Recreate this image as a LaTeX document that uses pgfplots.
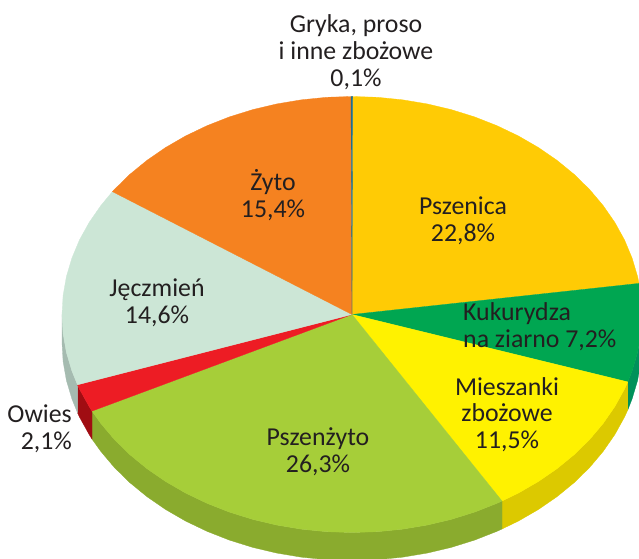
\documentclass[border=0pt]{standalone}
\usepackage{pgfplots}
\pgfplotsset{compat=1.18}
\usepackage{fontspec}
\setmainfont{Carlito}
\definecolor{cPsz}{HTML}{FFCB05}
\definecolor{cKuk}{HTML}{00A651}
\definecolor{cMie}{HTML}{FFF200}
\definecolor{cPzy}{HTML}{A6CE39}
\definecolor{cOwi}{HTML}{ED1C24}
\definecolor{cJec}{HTML}{CCE6D6}
\definecolor{cZyt}{HTML}{F58220}
\definecolor{cGry}{HTML}{1F6F8B}
\definecolor{sKuk}{HTML}{00915A}
\definecolor{sMie}{HTML}{DCC900}
\definecolor{sPzy}{HTML}{8AAB2E}
\definecolor{sOwi}{HTML}{A00D12}
\definecolor{sJec}{HTML}{A5BBB0}
\definecolor{txt}{HTML}{231F20}
\tikzset{lab/.style={font=\fontsize{25.8}{26.8}\selectfont,text=txt,align=center,inner sep=0pt}}
\begin{document}
\begin{tikzpicture}
\clip (0,0) rectangle (639pt,558pt);
\path[use as bounding box] (0,0) rectangle (639pt,558pt);
\begin{axis}[
  at={(0,0)},anchor=south west,
  width=639pt,height=558pt,scale only axis,
  xmin=0,xmax=639,ymin=0,ymax=558,
  hide axis,
  every axis plot/.append style={line width=0.3pt},
]
% rim
\addplot[fill=sKuk,draw=sKuk] coordinates {(642,243.5)(640.9,224.5)(637.6,205.6)(632.1,187.1)(627.8,176.1)(627.8,148.1)(632.1,159.1)(637.6,177.6)(640.9,196.5)(642,215.5)} --cycle;
\addplot[fill=sMie,draw=sMie] coordinates {(627.8,176.1)(624.5,168.9)(614.8,151.4)(603.1,134.5)(589.6,118.5)(574.2,103.4)(557.1,89.4)(538.4,76.5)(518.3,64.9)(502,57)(502,29)(518.3,36.9)(538.4,48.5)(557.1,61.4)(574.2,75.4)(589.6,90.5)(603.1,106.5)(614.8,123.4)(624.5,140.9)(627.8,148.1)} --cycle;
\addplot[fill=sPzy,draw=sPzy] coordinates {(502,57)(497,54.7)(474.6,45.9)(451.2,38.6)(427.1,32.9)(402.4,28.8)(377.3,26.3)(352,25.5)(326.7,26.3)(301.6,28.8)(276.9,32.9)(252.8,38.6)(229.4,45.9)(207,54.7)(185.7,64.9)(165.6,76.5)(146.9,89.4)(129.8,103.4)(114.4,118.5)(100.9,134.5)(92,146.9)(92,118.9)(100.9,106.5)(114.4,90.5)(129.8,75.4)(146.9,61.4)(165.6,48.5)(185.7,36.9)(207,26.7)(229.4,17.9)(252.8,10.6)(276.9,4.9)(301.6,0.8)(326.7,-1.7)(352,-2.5)(377.3,-1.7)(402.4,0.8)(427.1,4.9)(451.2,10.6)(474.6,17.9)(497,26.7)(502,29)} --cycle;
\addplot[fill=sOwi,draw=sOwi] coordinates {(92,146.9)(89.2,151.4)(79.5,168.9)(77.5,173.2)(77.5,145.2)(79.5,140.9)(89.2,123.4)(92,118.9)} --cycle;
\addplot[fill=sJec,draw=sJec] coordinates {(77.5,173.2)(71.9,187.1)(66.4,205.6)(63.1,224.5)(62,243.5)(62,215.5)(63.1,196.5)(66.4,177.6)(71.9,159.1)(77.5,145.2)} --cycle;
% top
\addplot[fill=cPsz,draw=cPsz] coordinates {(352,243.5)(352.6,461.5)(377.3,460.7)(402.4,458.2)(427.1,454.1)(451.2,448.4)(474.6,441.1)(497,432.3)(518.3,422.1)(538.4,410.5)(557.1,397.6)(574.2,383.6)(589.6,368.5)(603.1,352.5)(614.8,335.6)(624.5,318.1)(632.1,299.9)(637.6,281.4)(639,274.6)} --cycle;
\addplot[fill=cKuk,draw=cKuk] coordinates {(352,243.5)(639,274.6)(640.9,262.5)(642,243.5)(640.9,224.5)(637.6,205.6)(632.1,187.1)(627.8,176.1)} --cycle;
\addplot[fill=cMie,draw=cMie] coordinates {(352,243.5)(627.8,176.1)(624.5,168.9)(614.8,151.4)(603.1,134.5)(589.6,118.5)(574.2,103.4)(557.1,89.4)(538.4,76.5)(518.3,64.9)(502,57)} --cycle;
\addplot[fill=cPzy,draw=cPzy] coordinates {(352,243.5)(502,57)(497,54.7)(474.6,45.9)(451.2,38.6)(427.1,32.9)(402.4,28.8)(377.3,26.3)(352,25.5)(326.7,26.3)(301.6,28.8)(276.9,32.9)(252.8,38.6)(229.4,45.9)(207,54.7)(185.7,64.9)(165.6,76.5)(146.9,89.4)(129.8,103.4)(114.4,118.5)(100.9,134.5)(92,146.9)} --cycle;
\addplot[fill=cOwi,draw=cOwi] coordinates {(352,243.5)(92,146.9)(89.2,151.4)(79.5,168.9)(77.5,173.2)} --cycle;
\addplot[fill=cJec,draw=cJec] coordinates {(352,243.5)(77.5,173.2)(71.9,187.1)(66.4,205.6)(63.1,224.5)(62,243.5)(63.1,262.5)(66.4,281.4)(71.9,299.9)(79.5,318.1)(89.2,335.6)(100.9,352.5)(112.4,366.4)} --cycle;
\addplot[fill=cZyt,draw=cZyt] coordinates {(352,243.5)(112.4,366.4)(114.4,368.5)(129.8,383.6)(146.9,397.6)(165.6,410.5)(185.7,422.1)(207,432.3)(229.4,441.1)(252.8,448.4)(276.9,454.1)(301.6,458.2)(326.7,460.7)(351,461.5)} --cycle;
\addplot[fill=cGry,draw=cGry] coordinates {(352,243.5)(351,461.5)(352.6,461.5)} --cycle;
% labels
\node[lab] at (axis cs:356,506) {Gryka, proso\\i inne zbożowe\\0,1\%};
\node[lab] at (axis cs:463,337) {Pszenica\\22,8\%};
\node[lab,align=left,anchor=west] at (axis cs:463,231.5) {Kukurydza\\na ziarno 7,2\%};
\node[lab] at (axis cs:507,143.5) {Mieszanki\\zbożowe\\11,5\%};
\node[lab] at (axis cs:318,106) {Pszenżyto\\26,3\%};
\node[lab] at (axis cs:157,255.5) {Jęczmień\\14,6\%};
\node[lab] at (axis cs:273,362.5) {Żyto\\15,4\%};
\node[lab,align=right,anchor=east] at (axis cs:72,129.5) {Owies\\2,1\%};
\end{axis}
\end{tikzpicture}
\end{document}
